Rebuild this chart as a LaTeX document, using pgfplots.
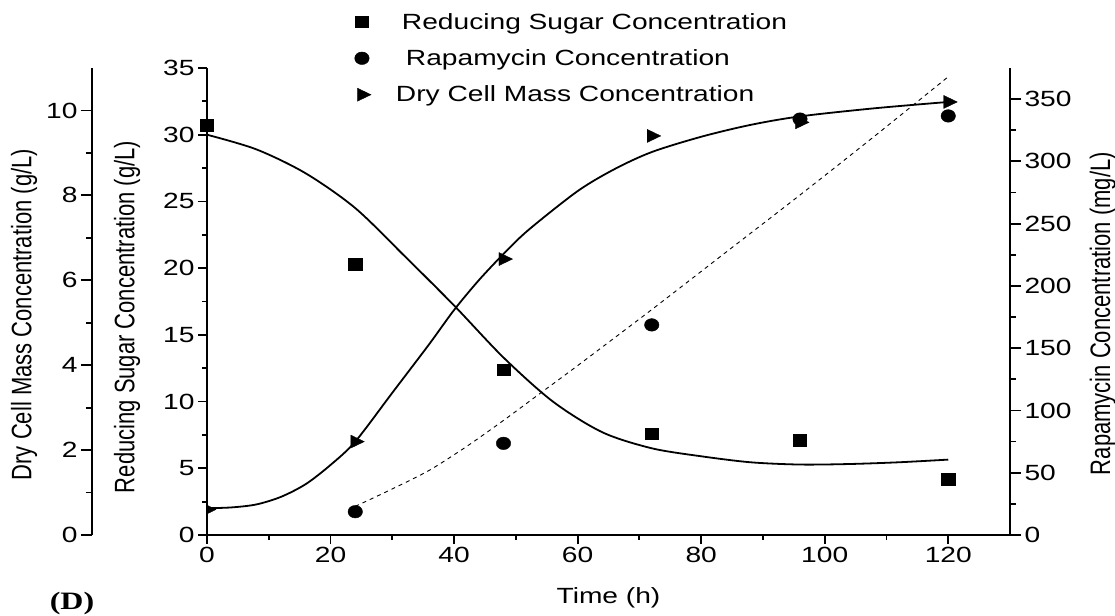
\documentclass[border=0pt]{standalone}
\usepackage{graphicx}
\usepackage{fontspec}
\setmainfont{Liberation Sans}[FakeStretch=1.28]
\newfontfamily\rotfont{Liberation Sans}
\newfontfamily\panelfont{Liberation Serif}[FakeStretch=1.28]
\usepackage{pgfplots}
\pgfplotsset{compat=1.18}

% fitted curves (smoothed)
\pgfplotstableread{
t  s
0  30.0
8  28.9
16 27.1
24 24.5
32 20.9
40 17.2
48 13.3
56 10.0
64 7.7
72 6.5
80 5.9
88 5.45
96 5.28
104 5.32
112 5.45
120 5.65
}\sugarfit
\pgfplotstableread{
t  d
0  0.63
4  0.65
8  0.72
12 0.9
16 1.2
20 1.65
24 2.2
30 3.35
36 4.5
40 5.3
44 6.0
48 6.62
52 7.18
60 8.1
66 8.62
72 9.02
80 9.38
88 9.66
96 9.86
108 10.05
120 10.2
}\dryfit
\pgfplotstableread{
t  r
24 23
30 37
36 52
42 71
48 92
54 114
60 136
72 181
84 227
96 273
108 320
120 368
}\rapfit

\newcommand{\vlabel}[1]{\scalebox{1}[1.28]{\rotfont #1}}

\pgfplotsset{
  base/.style={
    scale only axis, width=803pt, height=467pt,
    xmin=0, xmax=130,
    font=\fontsize{22}{26}\selectfont,
    /pgf/number format/assume math mode=true,
    tick align=outside,
    axis line style={line width=2pt},
    every tick/.style={black, line width=1.8pt},
    major tick length=9pt, minor tick length=5pt,
  },
  sq/.style={black, mark=square*, mark size=5.8pt, mark options={xscale=1.15}},
  ci/.style={black, mark=*, mark size=6.3pt, mark options={xscale=1.15}},
  tr/.style={black, mark=triangle*, mark size=7.5pt, mark options={xscale=1.2, rotate=-90}},
}

\begin{document}
\begin{tikzpicture}[x=1pt,y=1pt]
\useasboundingbox (0,0) rectangle (1115,615);

% main axis: time and reducing sugar
\begin{axis}[base, at={(207pt,80pt)}, anchor=south west,
  axis y line*=left, axis x line*=bottom,
  ymin=0, ymax=35, ytick={0,5,...,35}, minor y tick num=1,
  xtick={0,20,...,120}, minor x tick num=1,
  xlabel={Time (h)},
  xlabel style={at={(axis description cs:0.5,-0.135)}, anchor=center},
  ylabel={\vlabel{Reducing Sugar Concentration (g/L)}},
  ylabel style={at={(axis description cs:-0.0996,0.467)}, anchor=center},
  legend style={at={(axis description cs:0.1837,1.118)}, anchor=north west,
    draw=none, fill=none, inner sep=0pt, row sep=19pt,
    nodes={inner sep=0pt}, font=\fontsize{22}{26}\selectfont},
  legend cell align=left,
]
\addlegendimage{only marks, sq}
\addlegendentry{\hspace{31pt}Reducing Sugar Concentration}
\addlegendimage{only marks, ci}
\addlegendentry{\hspace{35pt}Rapamycin Concentration}
\addlegendimage{only marks, tr}
\addlegendentry{\hspace{25pt}Dry Cell Mass Concentration}
\addplot[black, line width=1.8pt, smooth, no markers] table[x=t, y=s] {\sugarfit};
\addplot[only marks, sq] coordinates {
  (0,30.7) (24,20.3) (48,12.4) (72,7.6) (96,7.1) (120,4.2)};
\end{axis}

% dry cell mass axis line, offset to the left
\begin{axis}[base, at={(92pt,80pt)}, anchor=south west, width=10pt,
  xmin=0, xmax=1, hide x axis, axis y line*=left,
  ymin=0, ymax=11, ytick={0,2,...,10}, minor y tick num=1,
  major tick length=11pt, minor tick length=6pt,
  ylabel={\vlabel{Dry Cell Mass Concentration (g/L)}},
  ylabel style={at={(axis description cs:-6.8,0.472)}, anchor=center},
]
\end{axis}

% dry cell mass data on the shared plot area
\begin{axis}[base, at={(207pt,80pt)}, anchor=south west,
  hide axis, ymin=0, ymax=11, clip marker paths=true]
\addplot[black, line width=1.8pt, smooth, no markers] table[x=t, y=d] {\dryfit};
\addplot[only marks, tr] coordinates {
  (0,0.6) (24,2.2) (48,6.5) (72,9.4) (96,9.72) (120,10.2)};
\end{axis}

% rapamycin axis on the right
\begin{axis}[base, at={(207pt,80pt)}, anchor=south west,
  hide x axis, axis y line*=right,
  ymin=0, ymax=375, ytick={0,50,...,350}, minor y tick num=1,
  major tick length=11pt, minor tick length=6pt,
  ylabel={\vlabel{Rapamycin Concentration (mg/L)}},
  ylabel style={at={(axis description cs:1.1155,0.474)}, anchor=center},
]
\addplot[black, line width=0.9pt, dash pattern=on 4pt off 4pt, smooth, no markers] table[x=t, y=r] {\rapfit};
\addplot[only marks, ci] coordinates {
  (24,18.7) (48,73.6) (72,168.7) (96,334) (120,336.5)};
\end{axis}

\node[font=\panelfont\bfseries\fontsize{25}{28}\selectfont] at (72,12) {(D)};
\end{tikzpicture}
\end{document}
